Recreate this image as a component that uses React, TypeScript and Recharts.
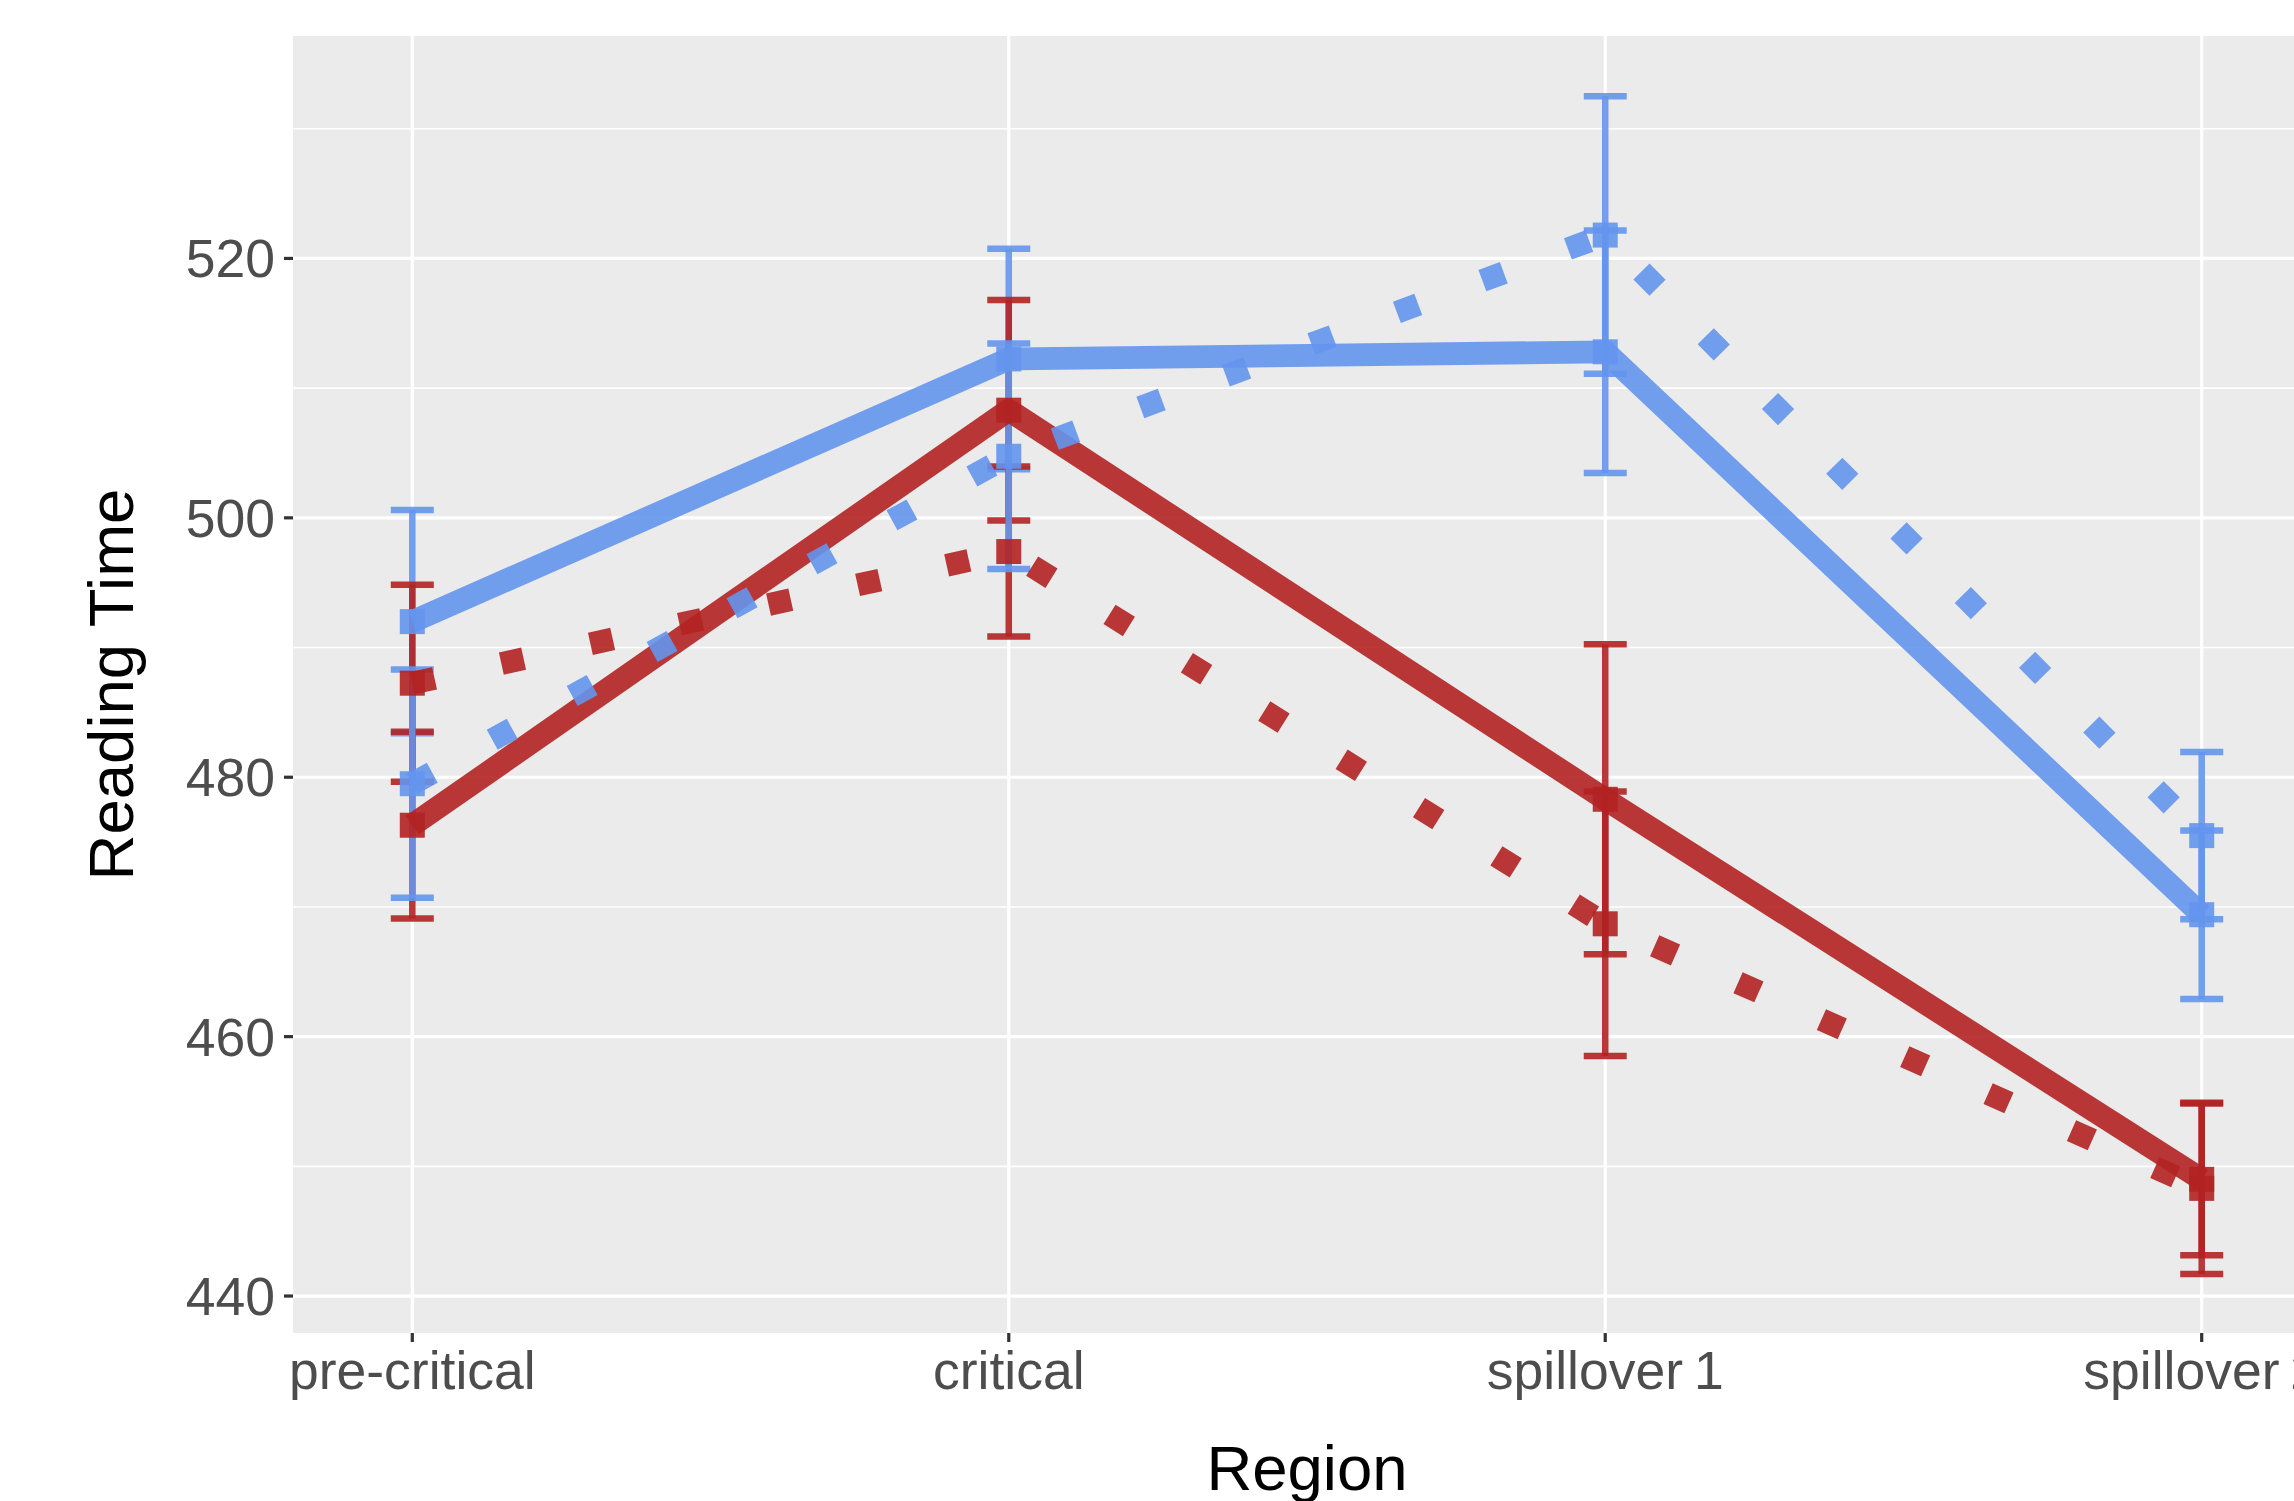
import React from 'react';
import { ComposedChart, Line, XAxis, YAxis, CartesianGrid, ErrorBar, Label } from 'recharts';

// ---- data ----
const categories = ['pre-critical', 'critical', 'spillover 1', 'spillover 2'];
const blueSolid = [492.0, 512.25, 512.8, 469.4];
const blueSolidSe = [8.6, 8.5, 9.35, 6.5];
const blueDotted = [479.5, 504.75, 521.8, 475.5];
const blueDottedSe = [8.8, 8.7, 10.7, 6.45];
const redSolid = [476.3, 508.3, 478.3, 449.0];
const redSolidSe = [7.2, 8.5, 11.95, 5.85];
const redDotted = [487.25, 497.4, 468.7, 448.3];
const redDottedSe = [7.6, 6.55, 10.2, 6.6];
const yMajorTicks = [440, 460, 480, 500, 520];
const yMinorTicks = [450, 470, 490, 510, 530];
const xTicks = [0, 1, 2, 3];

const BLUE = '#6495ED';
const RED = '#B22222';
const FONT = '"Liberation Sans", Arial, Helvetica, sans-serif';
const TICK_FONT = 53.5;

const data = categories.map((c, i) => ({
  x: i,
  name: c,
  bs: blueSolid[i],
  bsSe: blueSolidSe[i],
  bd: blueDotted[i],
  bdSe: blueDottedSe[i],
  rs: redSolid[i],
  rsSe: redSolidSe[i],
  rd: redDotted[i],
  rdSe: redDottedSe[i],
}));

const series = [
  { key: 'bs', se: 'bsSe', color: BLUE, dotted: false },
  { key: 'rs', se: 'rsSe', color: RED, dotted: false },
  { key: 'rd', se: 'rdSe', color: RED, dotted: true },
  { key: 'bd', se: 'bdSe', color: BLUE, dotted: true },
];

const LW = 22.8;
const SQ = 25;

const makeSquare = (id: string, color: string) => (props: any) => {
  const { cx, cy, index } = props;
  if (cx == null || cy == null) return <g key={`${id}-${index}`} />;
  return (
    <rect
      key={`${id}-${index}`}
      x={cx - SQ / 2}
      y={cy - SQ / 2}
      width={SQ}
      height={SQ}
      fill={color}
      fillOpacity={0.9}
    />
  );
};

const XTick = (props: any) => {
  const { x, y, payload } = props;
  return (
    <text
      x={x}
      y={y}
      dy="0.71em"
      textAnchor="middle"
      fill="#4D4D4D"
      fontSize={TICK_FONT}
      fontFamily={FONT}
      style={{ wordSpacing: '-4px' }}
    >
      {categories[payload.value]}
    </text>
  );
};

const YTick = (props: any) => {
  const { x, y, payload } = props;
  return (
    <text
      x={x}
      y={y}
      dy="0.355em"
      textAnchor="end"
      fill="#4D4D4D"
      fontSize={TICK_FONT}
      fontFamily={FONT}
    >
      {payload.value}
    </text>
  );
};

const XTitle = (props: any) => {
  const vb = props.viewBox || {};
  return (
    <text
      x={vb.x + vb.width / 2}
      y={vb.y + 157}
      textAnchor="middle"
      fontSize={63.5}
      fontFamily={FONT}
      fill="#000000"
    >
      Region
    </text>
  );
};

const YTitle = (props: any) => {
  const vb = props.viewBox || {};
  const cx = vb.x + 133;
  const cy = vb.y + vb.height / 2;
  return (
    <text
      x={cx}
      y={cy}
      transform={`rotate(-90 ${cx} ${cy})`}
      textAnchor="middle"
      fontSize={63.5}
      fontFamily={FONT}
      fill="#000000"
    >
      Reading Time
    </text>
  );
};

export default function App() {
  const tickLineStyle = { stroke: '#333333', strokeWidth: 3.2 };
  return (
    <div
      style={{
        position: 'fixed',
        left: 0,
        top: 0,
        width: 2294,
        height: 1501,
        overflow: 'hidden',
        background: '#FFFFFF',
      }}
    >
      <ComposedChart
        width={2330}
        height={1501}
        data={data}
        margin={{ top: 36, right: 9, bottom: 0, left: 0 }}
      >
        <CartesianGrid
          fill="#EBEBEB"
          stroke="#FFFFFF"
          strokeWidth={1.6}
          horizontalValues={yMinorTicks}
          vertical={false}
        />
        <CartesianGrid
          stroke="#FFFFFF"
          strokeWidth={3.2}
          horizontalValues={yMajorTicks}
          verticalValues={xTicks}
        />
        <XAxis
          type="number"
          dataKey="x"
          domain={[-0.2, 3.2]}
          allowDataOverflow
          ticks={xTicks}
          interval={0}
          axisLine={false}
          tickLine={tickLineStyle}
          tickSize={9}
          tickMargin={9}
          height={168}
          tick={<XTick />}
        >
          <Label content={XTitle} />
        </XAxis>
        <YAxis
          type="number"
          domain={[437.15, 537.15]}
          allowDataOverflow
          ticks={yMajorTicks}
          interval={0}
          axisLine={false}
          tickLine={tickLineStyle}
          tickSize={9}
          tickMargin={9}
          width={293}
          tick={<YTick />}
        >
          <Label content={YTitle} />
        </YAxis>

        {series.map((s) => (
          <Line
            key={`eb-${s.key}`}
            name={`eb-${s.key}`}
            dataKey={s.key}
            stroke="none"
            dot={false}
            activeDot={false}
            legendType="none"
            isAnimationActive={false}
          >
            <ErrorBar
              dataKey={s.se}
              width={21.5}
              stroke={s.color}
              strokeWidth={6.5}
              strokeOpacity={0.9}
            />
          </Line>
        ))}

        {series.map((s) => (
          <Line
            key={`ln-${s.key}`}
            name={`ln-${s.key}`}
            type="linear"
            dataKey={s.key}
            stroke={s.color}
            strokeOpacity={0.9}
            strokeWidth={LW}
            strokeDasharray={s.dotted ? `${LW} ${LW * 3}` : undefined}
            strokeLinejoin="round"
            strokeLinecap="butt"
            dot={false}
            activeDot={false}
            legendType="none"
            isAnimationActive={false}
          />
        ))}

        {series.map((s) => (
          <Line
            key={`pt-${s.key}`}
            name={`pt-${s.key}`}
            dataKey={s.key}
            stroke="none"
            dot={makeSquare(`pt-${s.key}`, s.color)}
            activeDot={false}
            legendType="none"
            isAnimationActive={false}
          />
        ))}
      </ComposedChart>
    </div>
  );
}
